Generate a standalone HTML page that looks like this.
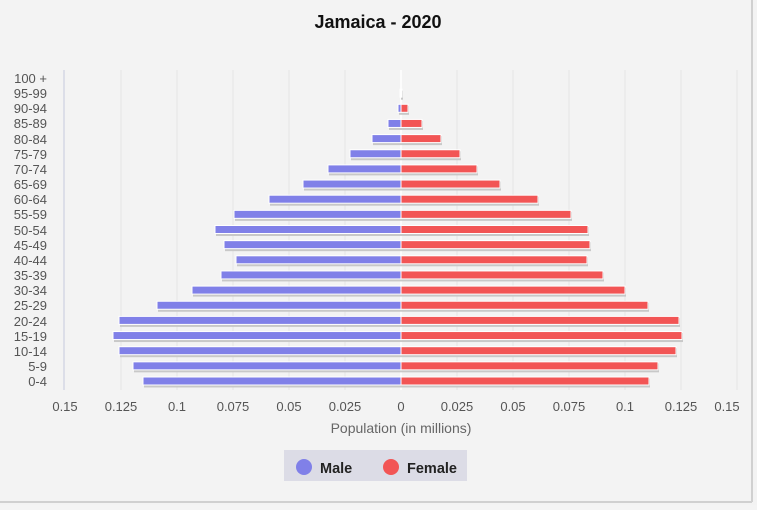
<!DOCTYPE html>
<html><head><meta charset="utf-8"><style>
body{margin:0;width:757px;height:505px;background:#f4f4f4;overflow:hidden;font-family:"Liberation Sans",sans-serif;}
</style></head><body>
<svg width="757" height="505" xmlns="http://www.w3.org/2000/svg" font-family="Liberation Sans, sans-serif">
<rect width="757" height="505" fill="#f3f3f3"/>
<line x1="752" y1="0" x2="752" y2="502" stroke="#d0d0d0" stroke-width="2"/>
<line x1="0" y1="502" x2="752" y2="502" stroke="#d0d0d0" stroke-width="2"/>
<text x="378" y="28" text-anchor="middle" font-size="18" font-weight="bold" fill="#111">Jamaica - 2020</text>
<g stroke="#e4e4e4" stroke-width="1">
<line x1="121" y1="70" x2="121" y2="390"/><line x1="177" y1="70" x2="177" y2="390"/><line x1="233" y1="70" x2="233" y2="390"/><line x1="289" y1="70" x2="289" y2="390"/><line x1="345" y1="70" x2="345" y2="390"/><line x1="457" y1="70" x2="457" y2="390"/><line x1="513" y1="70" x2="513" y2="390"/><line x1="569" y1="70" x2="569" y2="390"/><line x1="625" y1="70" x2="625" y2="390"/><line x1="681" y1="70" x2="681" y2="390"/><line x1="737" y1="70" x2="737" y2="390"/>
</g>
<line x1="401" y1="70" x2="401" y2="390" stroke="#ffffff" stroke-width="1.5"/>
<line x1="64" y1="70" x2="64" y2="390" stroke="#d4d8e4" stroke-width="1.5"/>
<g font-size="13" fill="#555" text-anchor="end">
<text x="47" y="386">0-4</text><text x="47" y="371">5-9</text><text x="47" y="356">10-14</text><text x="47" y="341">15-19</text><text x="47" y="326">20-24</text><text x="47" y="310">25-29</text><text x="47" y="295">30-34</text><text x="47" y="280">35-39</text><text x="47" y="265">40-44</text><text x="47" y="250">45-49</text><text x="47" y="235">50-54</text><text x="47" y="219">55-59</text><text x="47" y="204">60-64</text><text x="47" y="189">65-69</text><text x="47" y="174">70-74</text><text x="47" y="159">75-79</text><text x="47" y="144">80-84</text><text x="47" y="128">85-89</text><text x="47" y="113">90-94</text><text x="47" y="98">95-99</text><text x="47" y="83">100 +</text>
</g>
<g id="bars"></g>
<g font-size="13" fill="#555" text-anchor="middle">
<text x="65" y="411">0.15</text><text x="121" y="411">0.125</text><text x="177" y="411">0.1</text><text x="233" y="411">0.075</text><text x="289" y="411">0.05</text><text x="345" y="411">0.025</text><text x="401" y="411">0</text><text x="457" y="411">0.025</text><text x="513" y="411">0.05</text><text x="569" y="411">0.075</text><text x="625" y="411">0.1</text><text x="681" y="411">0.125</text><text x="727" y="411">0.15</text>
</g>
<text x="401" y="433" text-anchor="middle" font-size="14" fill="#666">Population (in millions)</text>
<rect x="284" y="450" width="183" height="31" fill="#dcdce6"/>
<circle cx="304" cy="467" r="8" fill="#8080e8"/>
<text x="320" y="473" font-size="14.5" font-weight="bold" fill="#222">Male</text>
<circle cx="391" cy="467" r="8" fill="#f25555"/>
<text x="407" y="473" font-size="14.5" font-weight="bold" fill="#222">Female</text>
</svg>
<script>
var m=[143,133,119,113,119,157,192,221,236,224,215,234,269,303,328,350,372,388,398,400];
var f=[649,658,676,682,679,648,625,603,587,590,588,571,538,500,477,460,441,422,408,402];
var g=document.getElementById('bars'),s='';
for(var i=0;i<20;i++){var y=381-i*15.15-4;
s+='<rect x="'+(m[i]+1)+'" y="'+(y+1.5)+'" width="'+(401-m[i])+'" height="9" fill="#c8c8c8"/>';
s+='<rect x="402" y="'+(y+1.5)+'" width="'+(f[i]-401)+'" height="9" fill="#c8c8c8"/>';
s+='<rect x="'+m[i]+'" y="'+y+'" width="'+(401-m[i])+'" height="8" fill="#8080e8" stroke="#fff" stroke-width="1"/>';
s+='<rect x="401" y="'+y+'" width="'+(f[i]-401)+'" height="8" fill="#f25555" stroke="#fff" stroke-width="1"/>';}
g.innerHTML=s;
</script>
</body></html>
